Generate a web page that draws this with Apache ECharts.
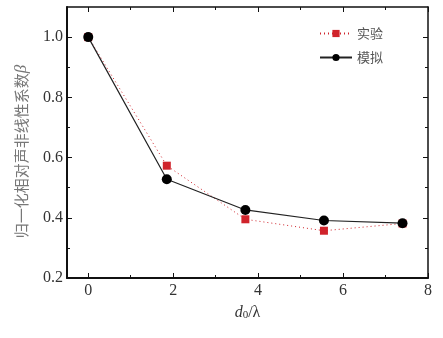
<!DOCTYPE html>
<html>
<head>
<meta charset="utf-8">
<script src="https://cdn.jsdelivr.net/npm/echarts@6/dist/echarts.min.js"></script>
<style>
  html, body { margin: 0; padding: 0; background: #fff; }
  #chart { width: 443px; height: 338px; }
</style>
</head>
<body>
<div id="chart"></div>
<script>
// values
const expX = [0, 1.85, 3.7, 5.55, 7.4]
const expY = [1.0, 0.573, 0.395, 0.357, 0.381]
const simX = [0, 1.85, 3.7, 5.55, 7.4]
const simY = [1.0, 0.528, 0.426, 0.391, 0.382]

const xMajor = [0, 2, 4, 6, 8]
const xMinor = [1, 3, 5, 7]
const yMajor = [0.2, 0.4, 0.6, 0.8, 1.0]
const yMinor = [0.3, 0.5, 0.7, 0.9]

const serif = 'Liberation Serif'
const cjk = 'Noto Sans CJK SC'

const chart = echarts.init(document.getElementById('chart'))

const grid = { left: 67, right: 15, top: 7, bottom: 60 }

// helper for extra axes used only to draw ticks (mirror + minor)
const tickAxis = (pos, values, len, showLine) => ({
  type: 'value',
  position: pos,
  min: pos === 'top' || pos === 'bottom' ? -0.5 : 0.2,
  max: pos === 'top' || pos === 'bottom' ? 8 : 1.1,
  axisLine: { show: showLine, onZero: false, lineStyle: { color: '#111', width: 1.5 } },
  axisTick: { show: true, inside: true, length: len, customValues: values, lineStyle: { color: '#111', width: 1 } },
  axisLabel: { show: false },
  splitLine: { show: false }
})

const xPairs = (xs, ys) => xs.map((x, i) => [x, ys[i]])

const option = {
  backgroundColor: '#fff',
  animation: false,
  grid: grid,
  legend: {
    orient: 'vertical',
    left: 314,
    top: 22,
    itemWidth: 32,
    itemHeight: 9,
    itemGap: 11,
    textStyle: { fontFamily: cjk, fontSize: 13, color: '#555' },
    data: ['实验', '模拟']
  },
  xAxis: [
    {
      type: 'value',
      position: 'bottom',
      min: -0.5,
      max: 8,
      name: '{d|d}{s|0}{n|/λ}',
      nameLocation: 'middle',
      nameGap: 26,
      nameTextStyle: {
        rich: {
          d: { fontFamily: serif, fontStyle: 'italic', fontSize: 16, color: '#333' },
          s: { fontFamily: serif, fontSize: 11, color: '#333', verticalAlign: 'bottom', padding: [6, 0, 0, 0] },
          n: { fontFamily: serif, fontSize: 16, color: '#333' }
        }
      },
      axisLine: { show: true, onZero: false, lineStyle: { color: '#111', width: 2 } },
      axisTick: { show: true, inside: true, length: 5, customValues: xMajor, lineStyle: { color: '#111', width: 1 } },
      axisLabel: {
        customValues: xMajor,
        margin: 5,
        fontFamily: serif,
        fontSize: 16,
        color: '#333'
      },
      splitLine: { show: false }
    },
    tickAxis('bottom', xMinor, 3, false),
    tickAxis('top', xMajor, 5, true),
    tickAxis('top', xMinor, 3, false)
  ],
  yAxis: [
    {
      type: 'value',
      position: 'left',
      min: 0.2,
      max: 1.1,
      name: '归一化相对声非线性系数{b|β}',
      nameLocation: 'middle',
      nameRotate: 90,
      nameGap: 37,
      nameTextStyle: {
        fontFamily: cjk,
        fontSize: 15,
        color: '#777',
        padding: [0, 18, 0, 0],
        rich: {
          b: { fontFamily: serif, fontStyle: 'italic', fontSize: 17, color: '#777' }
        }
      },
      axisLine: { show: true, onZero: false, lineStyle: { color: '#111', width: 2 } },
      axisTick: { show: true, inside: true, length: 5, customValues: yMajor, lineStyle: { color: '#111', width: 1 } },
      axisLabel: {
        customValues: yMajor,
        margin: 4,
        fontFamily: serif,
        fontSize: 16,
        color: '#333',
        formatter: (v) => v.toFixed(1)
      },
      splitLine: { show: false }
    },
    tickAxis('left', yMinor, 3, false),
    tickAxis('right', yMajor, 5, true),
    tickAxis('right', yMinor, 3, false)
  ],
  series: [
    {
      name: '实验',
      type: 'line',
      data: xPairs(expX, expY),
      symbol: 'rect',
      symbolSize: 8,
      itemStyle: { color: '#d0232b' },
      lineStyle: { color: '#d0232b', width: 1, type: [1, 3] },
      z: 3
    },
    {
      name: '模拟',
      type: 'line',
      data: xPairs(simX, simY),
      symbol: 'circle',
      symbolSize: 10,
      itemStyle: { color: '#000' },
      lineStyle: { color: '#222', width: 1.2 },
      z: 4
    }
  ]
}

chart.setOption(option)
</script>
</body>
</html>
